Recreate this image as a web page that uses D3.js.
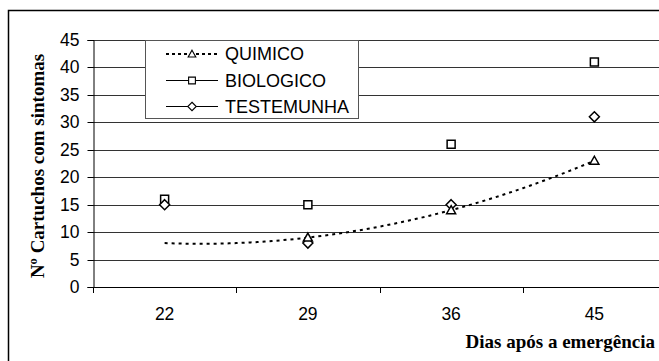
<!DOCTYPE html>
<html><head><meta charset="utf-8">
<script src="https://cdn.jsdelivr.net/npm/d3@7"></script>
<style>body{margin:0;background:#fff}svg{display:block}</style>
</head><body>
<svg id="c" width="659" height="361"></svg>
<script>
const categories = ["22", "29", "36", "45"];
const quimico = [null, 9, 14, 23];
const biologico = [16, 15, 26, 41];
const testemunha = [15, 8, 15, 31];
const yTicks = [0, 5, 10, 15, 20, 25, 30, 35, 40, 45];
const seriesNames = ["QUIMICO", "BIOLOGICO", "TESTEMUNHA"];

const svg = d3.select("#c");
const L = 93, R = 666, T = 40, B = 287;

svg.append("rect").attr("x", 8.5).attr("y", 10.5).attr("width", 700).attr("height", 400)
  .attr("fill", "none").attr("stroke", "#000").attr("stroke-width", 1.5);

const x = d3.scaleBand().domain(categories).range([L, R]);
const y = d3.scaleLinear().domain([0, 45]).range([B, T]);
const cx = c => x(c) + x.bandwidth() / 2;

svg.append("g").selectAll("line").data(yTicks.filter(v => v > 0)).join("line")
  .attr("x1", L).attr("x2", R).attr("y1", d => Math.round(y(d)) + 0.5).attr("y2", d => Math.round(y(d)) + 0.5)
  .attr("stroke", "#333").attr("stroke-width", 1);

const ya = svg.append("g").attr("transform", `translate(${L + 0.5},0)`)
  .call(d3.axisLeft(y).tickValues(yTicks).tickSize(6).tickPadding(8).tickFormat(d3.format("d")));
ya.select(".domain").attr("stroke", "#000");
ya.selectAll(".tick line").attr("stroke", "#000");
ya.selectAll(".tick").attr("transform", d => `translate(0,${Math.round(y(d)) + 0.5})`);
ya.selectAll("text").attr("font-family", "Arial, 'Liberation Sans', sans-serif").attr("font-size", 17.5).attr("fill", "#000");

const xa = svg.append("g").attr("transform", `translate(0,${B + 0.5})`)
  .call(d3.axisBottom(x).tickSize(0).tickPadding(20));
xa.select(".domain").attr("stroke", "#000").attr("d", `M${L},0H${R}`);
xa.selectAll("text").attr("font-family", "Arial, 'Liberation Sans', sans-serif").attr("font-size", 17.5).attr("fill", "#000");
const bounds = categories.map(c => x(c)).concat([R]);
svg.append("g").selectAll("line").data(bounds).join("line")
  .attr("x1", d => Math.round(d) + 0.5).attr("x2", d => Math.round(d) + 0.5)
  .attr("y1", B).attr("y2", B + 6).attr("stroke", "#000");

// trendline for QUIMICO (polynomial order 2, least squares)
const pts = quimico.map((v, i) => [i, v]).filter(p => p[1] != null);
function polyfit2(p) {
  let S = [0,0,0,0,0], Sy = [0,0,0];
  p.forEach(([xx, yy]) => { for (let k = 0; k < 5; k++) S[k] += Math.pow(xx, k); for (let k = 0; k < 3; k++) Sy[k] += yy * Math.pow(xx, k); });
  const M = [[S[4], S[3], S[2], Sy[2]], [S[3], S[2], S[1], Sy[1]], [S[2], S[1], S[0], Sy[0]]];
  for (let i = 0; i < 3; i++) { for (let j = i + 1; j < 3; j++) { const f = M[j][i] / M[i][i]; for (let k = i; k < 4; k++) M[j][k] -= f * M[i][k]; } }
  const r = [0,0,0];
  for (let i = 2; i >= 0; i--) { let s = M[i][3]; for (let k = i + 1; k < 3; k++) s -= M[i][k] * r[k]; r[i] = s / M[i][i]; }
  return r;
}
const [a, b, c0] = polyfit2(pts);
const xi = d3.scaleLinear().domain([0, categories.length - 1]).range([cx(categories[0]), cx(categories[categories.length - 1])]);
const trend = d3.range(0, 3.0001, 0.05).map(t => [xi(t), y(a * t * t + b * t + c0)]);
svg.append("path").attr("d", d3.line()(trend)).attr("fill", "none")
  .attr("stroke", "#000").attr("stroke-width", 2).attr("stroke-dasharray", "3,4");

const sym = {
  tri: "M0,-4.5L4.5,3.5L-4.5,3.5Z",
  sq: "M-4,-4H4V4H-4Z",
  dia: "M0,-5L5,0L0,5L-5,0Z"
};
function markers(data, s) {
  svg.append("g").selectAll("path").data(data.map((v, i) => [categories[i], v]).filter(d => d[1] != null)).join("path")
    .attr("d", s).attr("transform", d => `translate(${cx(d[0])},${y(d[1])})`)
    .attr("fill", "#fff").attr("stroke", "#000").attr("stroke-width", 1.5);
}
markers(biologico, sym.sq);
markers(testemunha, sym.dia);
markers(quimico, sym.tri);

const lg = svg.append("g");
lg.append("rect").attr("x", 145.5).attr("y", 40.5).attr("width", 213).attr("height", 78)
  .attr("fill", "#fff").attr("stroke", "#555").attr("stroke-width", 1);
const legendRows = [
  { name: seriesNames[0], s: sym.tri, dash: "3,3", y: 54 },
  { name: seriesNames[1], s: sym.sq, dash: null, y: 80.5 },
  { name: seriesNames[2], s: sym.dia, dash: null, y: 106.5 }
];
legendRows.forEach(r => {
  lg.append("line").attr("x1", 166).attr("x2", 218).attr("y1", r.y).attr("y2", r.y)
    .attr("stroke", "#000").attr("stroke-width", r.dash ? 2 : 1).attr("stroke-dasharray", r.dash);
  lg.append("path").attr("d", r.s).attr("transform", `translate(192,${r.y}) scale(0.85)`)
    .attr("fill", "#fff").attr("stroke", "#000").attr("stroke-width", 1.3);
  lg.append("text").attr("x", 225).attr("y", r.y).attr("dy", "0.36em").text(r.name)
    .attr("font-family", "Arial, 'Liberation Sans', sans-serif").attr("font-size", 18).attr("fill", "#000");
});

svg.append("text").attr("transform", "translate(44,166) rotate(-90)").attr("text-anchor", "middle")
  .attr("font-family", "'Times New Roman', 'Liberation Serif', serif").attr("font-weight", "bold").attr("font-size", 19)
  .text("Nº Cartuchos com sintomas");
svg.append("text").attr("x", 655).attr("y", 348).attr("text-anchor", "end")
  .attr("font-family", "'Times New Roman', 'Liberation Serif', serif").attr("font-weight", "bold").attr("font-size", 19)
  .text("Dias após a emergência");
</script>
</body></html>
